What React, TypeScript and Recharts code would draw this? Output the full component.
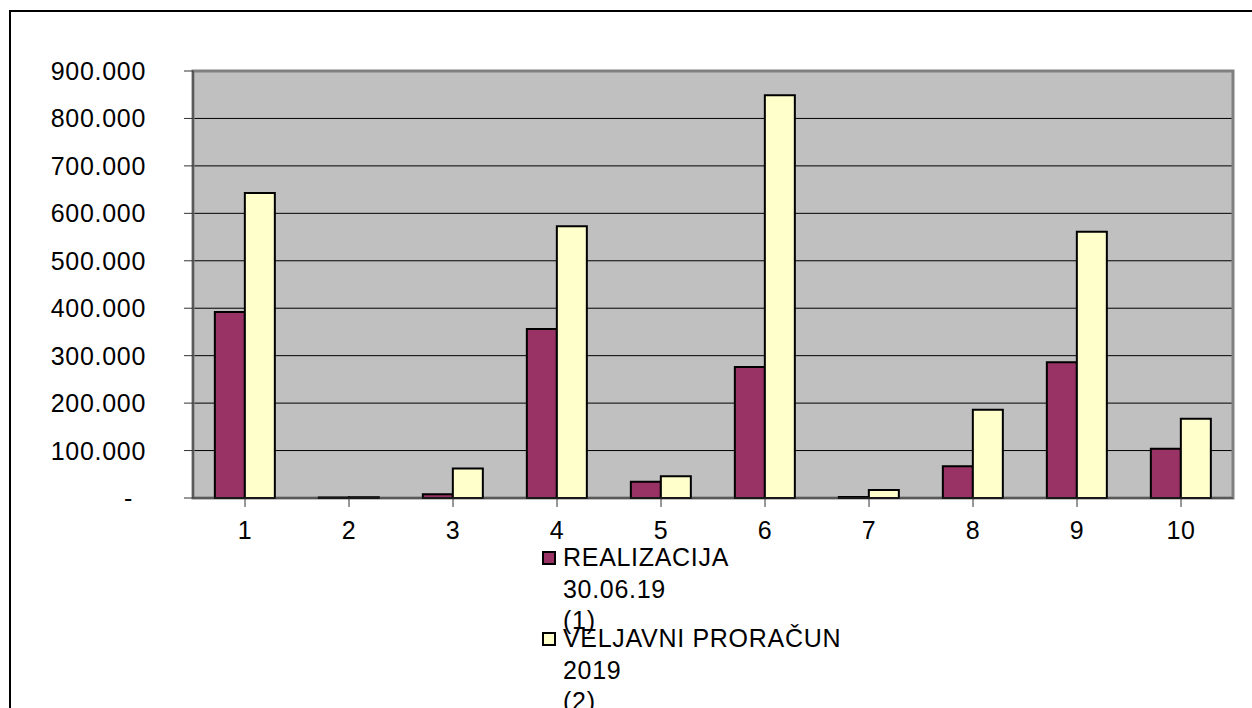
import React from 'react';
import {
  BarChart,
  Bar,
  XAxis,
  YAxis,
  CartesianGrid,
  Legend,
  ReferenceArea
} from 'recharts';

// categories and series values
const categories = ['1', '2', '3', '4', '5', '6', '7', '8', '9', '10'];
const realizacija = [392000, 1000, 8000, 356000, 34000, 276000, 2000, 67000, 286000, 104000];
const proracun = [643000, 1500, 62000, 573000, 46000, 849000, 17000, 186000, 561000, 167000];
const yTicks = [0, 100000, 200000, 300000, 400000, 500000, 600000, 700000, 800000, 900000];

const seriesLabels = [
  ['REALIZACIJA', '30.06.19', '(1)'],
  ['VELJAVNI PRORAČUN', '2019', '(2)']
];
const seriesColors = ['#993366', '#FFFFCC'];

const data = categories.map((c, i) => ({
  name: c,
  realizacija: realizacija[i],
  proracun: proracun[i]
}));

const FONT = '"Liberation Sans", Arial, sans-serif';
const SPACING = 0.7;

// 900000 -> "900.000", 0 -> "-"
const formatValue = (v: number) =>
  v === 0 ? '-' : String(v).replace(/\B(?=(\d{3})+(?!\d))/g, '.');

const YTick = (props: any) => {
  const { x, y, payload } = props;
  const v = payload.value as number;
  return (
    <text
      x={v === 0 ? x - 13 : x}
      y={y}
      dy="0.36em"
      textAnchor="end"
      fill="#000"
      fontSize={25}
      fontFamily={FONT}
      letterSpacing={SPACING}
    >
      {formatValue(v)}
    </text>
  );
};

const LegendContent = () => (
  <div
    style={{
      position: 'relative',
      width: 400,
      height: 170,
      fontFamily: FONT,
      fontSize: 25,
      letterSpacing: SPACING,
      color: '#000'
    }}
  >
    {seriesLabels.map((lines, i) => (
      <div key={i} style={{ position: 'absolute', left: 0, top: i * 81 }}>
        <div
          style={{
            position: 'absolute',
            left: 2,
            top: 10,
            width: 10,
            height: 10,
            background: seriesColors[i],
            border: '2px solid #000'
          }}
        />
        {lines.map((line, j) => (
          <div
            key={j}
            style={{
              position: 'absolute',
              left: 23,
              top: j * 31.5,
              lineHeight: '32px',
              whiteSpace: 'nowrap'
            }}
          >
            {line}
          </div>
        ))}
      </div>
    ))}
  </div>
);

export default function App() {
  return (
    <div
      style={{
        position: 'absolute',
        left: 0,
        top: 0,
        width: 1252,
        height: 708,
        overflow: 'hidden',
        background: '#fff'
      }}
    >
      {/* outer frame, only left and top edges visible */}
      <div
        style={{
          position: 'absolute',
          left: 9,
          top: 10,
          width: 1400,
          height: 900,
          borderLeft: '2px solid #000',
          borderTop: '2px solid #000'
        }}
      />
      <div style={{ position: 'absolute', left: 0, top: 0 }}>
        <BarChart
          width={1252}
          height={708}
          data={data}
          margin={{ top: 71, right: 19, left: 0, bottom: 150 }}
          barCategoryGap="21%"
          barGap={0}
        >
          <CartesianGrid
            fill="#C0C0C0"
            stroke="#000"
            strokeWidth={1}
            vertical={false}
            horizontalValues={yTicks}
          />
          <ReferenceArea
            y1={0}
            y2={900000}
            fill="none"
            stroke="#808080"
            strokeWidth={3}
          />
          <XAxis
            dataKey="name"
            height={60}
            stroke="#333"
            tickSize={9}
            tickMargin={14}
            tick={{ fontSize: 25, fill: '#000', fontFamily: FONT, letterSpacing: SPACING }}
          />
          <YAxis
            width={193}
            domain={[0, 900000]}
            ticks={yTicks}
            interval={0}
            stroke="#333"
            tickSize={9}
            tickMargin={38}
            tick={<YTick />}
          />
          <Legend
            layout="vertical"
            align="center"
            verticalAlign="middle"
            content={<LegendContent />}
            wrapperStyle={{ left: 540, top: 541, width: 400, height: 170 }}
          />
          <Bar
            dataKey="realizacija"
            name="REALIZACIJA 30.06.19 (1)"
            fill={seriesColors[0]}
            stroke="#000"
            strokeWidth={2}
            isAnimationActive={false}
          />
          <Bar
            dataKey="proracun"
            name="VELJAVNI PRORAČUN 2019 (2)"
            fill={seriesColors[1]}
            stroke="#000"
            strokeWidth={2}
            isAnimationActive={false}
          />
        </BarChart>
      </div>
    </div>
  );
}
